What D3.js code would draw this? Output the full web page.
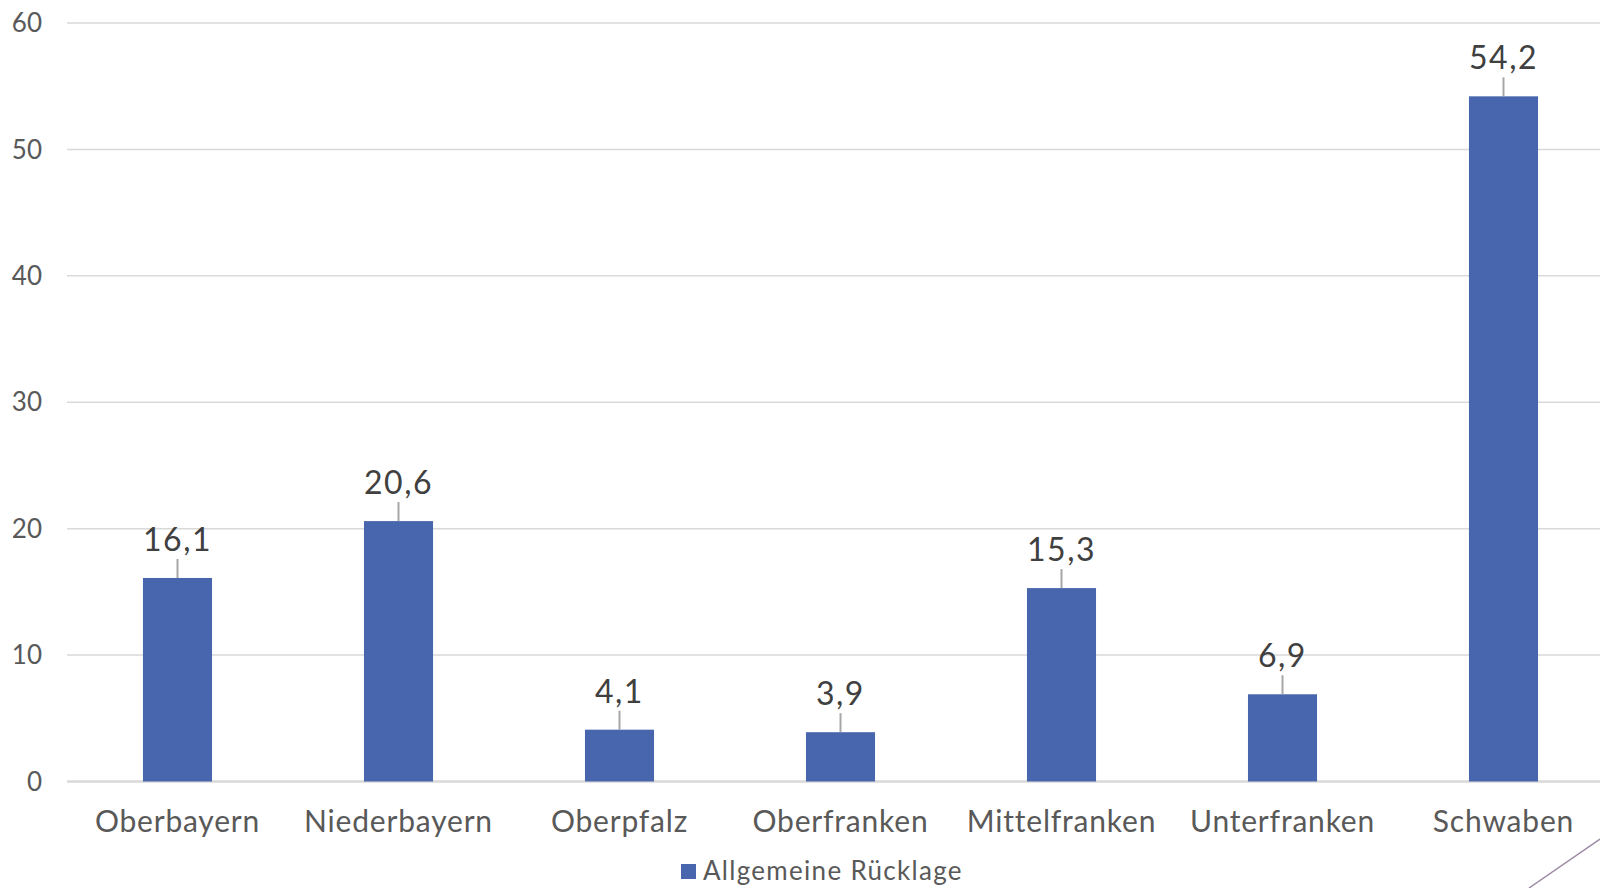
<!DOCTYPE html>
<html>
<head>
<meta charset="utf-8">
<script src="https://cdn.jsdelivr.net/npm/d3@7"></script>
<style>
  body { margin: 0; background: #fff; }
  svg { display: block; font-family: Lato, "Open Sans", sans-serif; }
</style>
</head>
<body>
<div id="display"></div>
<script>
// data
const regions = ["Oberbayern", "Niederbayern", "Oberpfalz", "Oberfranken", "Mittelfranken", "Unterfranken", "Schwaben"];
const ruecklage = [16.1, 20.6, 4.1, 3.9, 15.3, 6.9, 54.2];
const yTicks = [0, 10, 20, 30, 40, 50, 60];
const seriesName = "Allgemeine Rücklage";

const width = 1600, height = 888;
const margin = {left: 67, top: 23, bottom: 106};
const barColor = "#4866ad";

const svg = d3.select("#display").append("svg")
    .attr("width", width)
    .attr("height", height);

// plot runs a bit past the right edge, like the original
let x = d3.scaleBand()
    .domain(regions)
    .range([margin.left, margin.left + 7 * 221])
    .paddingInner(0.6875)
    .paddingOuter(0.34375);

let y = d3.scaleLinear()
    .domain([0, 60])
    .range([height - margin.bottom - 0.5, margin.top]);

// gridlines
svg.append("g")
  .selectAll("line")
  .data(yTicks)
  .join("line")
    .attr("x1", margin.left)
    .attr("x2", width)
    .attr("y1", d => y(d))
    .attr("y2", d => y(d))
    .attr("stroke", "#d9d9d9")
    .attr("stroke-width", d => d === 0 ? 2.5 : 1.5);

// y tick labels
svg.append("g")
    .attr("text-anchor", "end")
    .style("font-size", "26px")
    .attr("fill", "#595959")
  .selectAll("text")
  .data(yTicks)
  .join("text")
    .attr("x", 42)
    .attr("y", d => y(d))
    .attr("dy", "0.35em")
    .text(d => d);

// bars
svg.append("g")
    .attr("fill", barColor)
  .selectAll("rect")
  .data(ruecklage)
  .join("rect")
    .attr("x", (d, i) => x(regions[i]))
    .attr("y", d => y(d))
    .attr("width", x.bandwidth())
    .attr("height", d => y(0) - y(d));

// leader lines + value labels
const fmt = d => d.toFixed(1).replace(".", ",");
const lbl = svg.append("g");
lbl.selectAll("line")
  .data(ruecklage)
  .join("line")
    .attr("x1", (d, i) => x(regions[i]) + x.bandwidth() / 2)
    .attr("x2", (d, i) => x(regions[i]) + x.bandwidth() / 2)
    .attr("y1", d => y(d) - 19)
    .attr("y2", d => y(d))
    .attr("stroke", "#a6a6a6")
    .attr("stroke-width", 2);

lbl.selectAll("text")
  .data(ruecklage)
  .join("text")
    .attr("x", (d, i) => x(regions[i]) + x.bandwidth() / 2)
    .attr("y", d => y(d) - 27)
    .attr("text-anchor", "middle")
    .attr("fill", "#404040")
    .style("font-size", "32px")
    .style("letter-spacing", "1.5px")
    .text(d => fmt(d));

// category labels
svg.append("g")
    .attr("text-anchor", "middle")
    .attr("fill", "#595959")
    .style("font-size", "30px")
    .style("letter-spacing", "0.8px")
  .selectAll("text")
  .data(regions)
  .join("text")
    .attr("x", d => x(d) + x.bandwidth() / 2)
    .attr("y", 832)
    .text(d => d);

// legend
const legend = svg.append("g");
legend.append("rect")
    .attr("x", 681)
    .attr("y", 864)
    .attr("width", 15)
    .attr("height", 15)
    .attr("fill", barColor);
legend.append("text")
    .attr("x", 703)
    .attr("y", 880)
    .attr("fill", "#595959")
    .style("font-size", "26px")
    .style("letter-spacing", "1.3px")
    .text(seriesName);

// diagonal decoration in the corner
svg.append("line")
    .attr("x1", 1529).attr("y1", 888)
    .attr("x2", 1600).attr("y2", 839)
    .attr("stroke", "#9b8aa6")
    .attr("stroke-width", 1.5);
</script>
</body>
</html>
